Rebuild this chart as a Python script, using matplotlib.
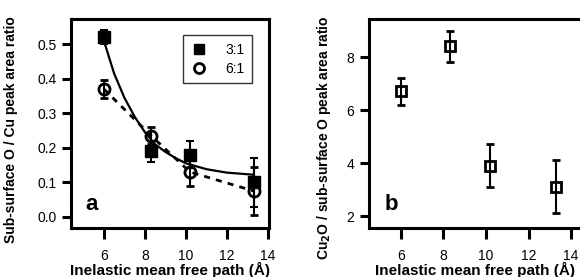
import numpy as np
import matplotlib.pyplot as plt

plt.rcParams['font.family'] = ['Liberation Sans', 'DejaVu Sans']

# Panel a data
imfp = [6.0, 8.3, 10.2, 13.3]
ratio_31 = [0.52, 0.19, 0.18, 0.10]
err_31 = [0.02, 0.03, 0.04, 0.07]
ratio_61 = [0.37, 0.235, 0.13, 0.075]
err_61 = [0.025, 0.025, 0.04, 0.07]

# fit curve through 3:1 data
fit_x = [6.0, 6.5, 7.0, 7.5, 8.0, 8.5, 9.0, 9.5, 10.0, 11.0, 12.0, 13.3]
fit_y = [0.51, 0.415, 0.345, 0.29, 0.245, 0.21, 0.188, 0.17, 0.155, 0.138, 0.128, 0.122]

# Panel b data
ratio_b = [6.7, 8.4, 3.9, 3.1]
err_b = [0.5, 0.6, 0.8, 1.0]

fig = plt.figure(figsize=(5.8, 2.77), dpi=100)
ax1 = fig.add_axes([0.1224, 0.177, 0.3414, 0.754])
ax2 = fig.add_axes([0.636, 0.177, 0.367, 0.754])

for ax in (ax1, ax2):
    for s in ax.spines.values():
        s.set_linewidth(2.2)
    ax.tick_params(axis='x', direction='out', length=8, width=2.2, pad=7, labelsize=10)
    ax.tick_params(axis='y', direction='out', length=6.5, width=2.2, pad=4, labelsize=10)
    ax.set_xticks([6, 8, 10, 12, 14])
    ax.set_xlabel('Inelastic mean free path (Å)', fontsize=11, fontweight='bold', labelpad=-1)

# panel a
ax1.plot(fit_x, fit_y, color='black', lw=1.6, zorder=2)
ax1.plot(imfp, ratio_61, color='black', lw=2, ls=(0, (2.2, 2.2)), zorder=2)
ax1.errorbar(imfp, ratio_31, yerr=err_31, fmt='s', ms=8.5, color='black',
             mfc='black', mec='black', elinewidth=1.5, capsize=3, capthick=1.5,
             zorder=4, label='3:1')
ax1.errorbar(imfp, ratio_61, yerr=err_61, fmt='o', ms=8, color='black',
             mfc='none', mec='black', mew=2, elinewidth=1.5, capsize=3, capthick=1.5,
             zorder=3, label='6:1')
ax1.set_xlim(4.4, 14.05)
ax1.set_ylim(-0.032, 0.572)
ax1.set_yticks([0.0, 0.1, 0.2, 0.3, 0.4, 0.5])
ax1.set_yticklabels(['0.0', '0.1', '0.2', '0.3', '0.4', '0.5'])
ax1.set_ylabel('Sub-surface O / Cu peak area ratio', fontsize=10, fontweight='bold')
ax1.yaxis.set_label_coords(-0.268, 0.469)
h, l = ax1.get_legend_handles_labels()
h = [x[0] for x in h]
leg = ax1.legend(h, l, loc='upper right', bbox_to_anchor=(0.914, 0.923), fontsize=10,
                 frameon=True, fancybox=False, edgecolor='black', borderpad=0.55,
                 borderaxespad=0, handletextpad=1.3, labelspacing=0.35,
                 handlelength=1.2, markerscale=0.9)
leg.get_frame().set_linewidth(1.0)
ax1.text(0.106, 0.11, 'a', transform=ax1.transAxes, fontsize=16, fontweight='bold',
         ha='center', va='center')

# panel b
ax2.errorbar(imfp, ratio_b, yerr=err_b, fmt='s', ms=7.5, color='black',
             mfc='none', mec='black', mew=2, elinewidth=1.5, capsize=3, capthick=1.5)
ax2.set_xlim(4.5, 14.5)
ax2.set_ylim(1.55, 9.43)
ax2.set_yticks([2, 4, 6, 8])
ax2.set_ylabel('Cu$_\\mathbf{2}$O / sub-surface O peak area ratio', fontsize=10,
               fontweight='bold')
ax2.yaxis.set_label_coords(-0.169, 0.43)
ax2.text(0.104, 0.11, 'b', transform=ax2.transAxes, fontsize=16, fontweight='bold',
         ha='center', va='center')

fig.savefig('out.png', dpi=100)
